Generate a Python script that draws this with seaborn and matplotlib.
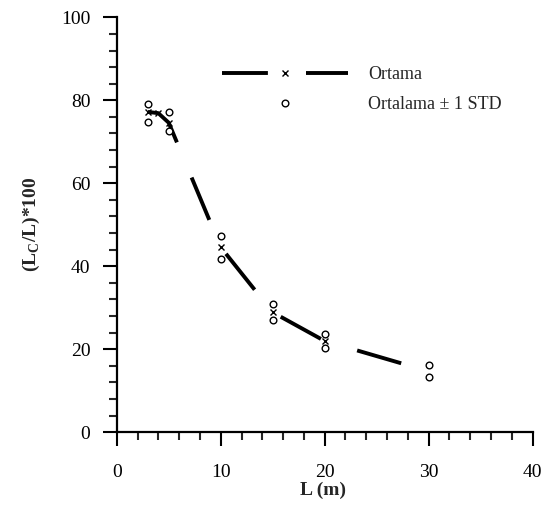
import matplotlib
matplotlib.use("Agg")
import matplotlib.pyplot as plt
import pandas as pd
import seaborn as sns
from matplotlib.lines import Line2D
from matplotlib.ticker import MultipleLocator

# mean values (Ortama)
mean_L = [3, 4, 5, 10, 15, 20, 30]
mean_val = [77.2, 76.9, 74.6, 44.6, 28.9, 22.0, 14.7]
# mean markers drawn (no x visible at 30 m)
mark_L = [3, 4, 5, 10, 15, 20]
mark_val = [77.2, 76.9, 74.6, 44.6, 28.9, 22.0]
# mean +/- 1 STD
std_L = [3, 5, 10, 15, 20, 30]
std_hi = [79.2, 77.3, 47.4, 30.8, 23.7, 16.2]
std_lo = [74.8, 72.5, 41.7, 27.1, 20.4, 13.3]

sns.set_theme(style="ticks")
plt.rcParams['font.family'] = ['Liberation Serif', 'DejaVu Serif']
plt.rcParams['mathtext.fontset'] = 'custom'
plt.rcParams['mathtext.rm'] = 'Liberation Serif'
plt.rcParams['mathtext.bf'] = 'Liberation Serif:bold'

FS = 14
LW = 2.8
DASH = (11.8, 9.8)
fig = plt.figure(figsize=(5.48, 5.12), dpi=100)
ax = fig.add_axes([0.213, 0.1557, 0.759, 0.8105])

df_mean = pd.DataFrame({"L": mean_L, "val": mean_val})
df_std = pd.DataFrame({"L": std_L * 2, "val": std_hi + std_lo})

sns.lineplot(data=df_mean, x="L", y="val", ax=ax, color="black", lw=LW,
             dashes=False, sort=False)
ax.lines[0].set_dashes(DASH)
ax.lines[0].set_dash_capstyle('butt')
ax.plot(mark_L, mark_val, ls="none", marker="x", ms=4.5, mew=1.0, color="black")
ax.plot(df_std["L"], df_std["val"], ls="none", marker="o", ms=4.8, mew=1.0,
        mfc="white", mec="black")

ax.set_xlim(0, 40)
ax.set_ylim(0, 100)
ax.xaxis.set_major_locator(MultipleLocator(10))
ax.xaxis.set_minor_locator(MultipleLocator(2))
ax.yaxis.set_major_locator(MultipleLocator(20))
ax.yaxis.set_minor_locator(MultipleLocator(4))
ax.tick_params(axis="both", which="major", length=10, width=1.5, labelsize=FS,
               colors="black", direction="out")
ax.tick_params(axis="both", which="minor", length=5.5, width=1.5, direction="out")
ax.tick_params(axis="y", which="major", pad=9)
ax.tick_params(axis="x", which="major", pad=13)
for s in ["left", "bottom"]:
    ax.spines[s].set_linewidth(1.6)
    ax.spines[s].set_color("black")
sns.despine(ax=ax)

ax.set_xlabel("L (m)", fontsize=FS, fontweight="bold")
ax.set_ylabel(r"(L$_{\mathbf{C}}$/L)*100", fontsize=FS, fontweight="bold")
ax.xaxis.set_label_coords(0.496, -0.12)
ax.yaxis.set_label_coords(-0.18, 0.5)

h_mean = Line2D([], [], color="black", lw=LW, marker="x", ms=4.5, mew=1.0,
                mec="black", dashes=DASH, dash_capstyle='butt')
h_std = Line2D([], [], ls="none", marker="o", ms=4.8, mew=1.0, mfc="white", mec="black")
fig.legend([h_mean, h_std], ["Ortama", "Ortalama \u00b1 1 STD"], loc="upper left",
           bbox_to_anchor=(222 / 548, 1 - 66 / 512), frameon=False, fontsize=FS - 1,
           handlelength=7.0, handletextpad=1.1, borderpad=0, borderaxespad=0,
           labelspacing=0.72, numpoints=1)

fig.savefig("out.png", dpi=100)
